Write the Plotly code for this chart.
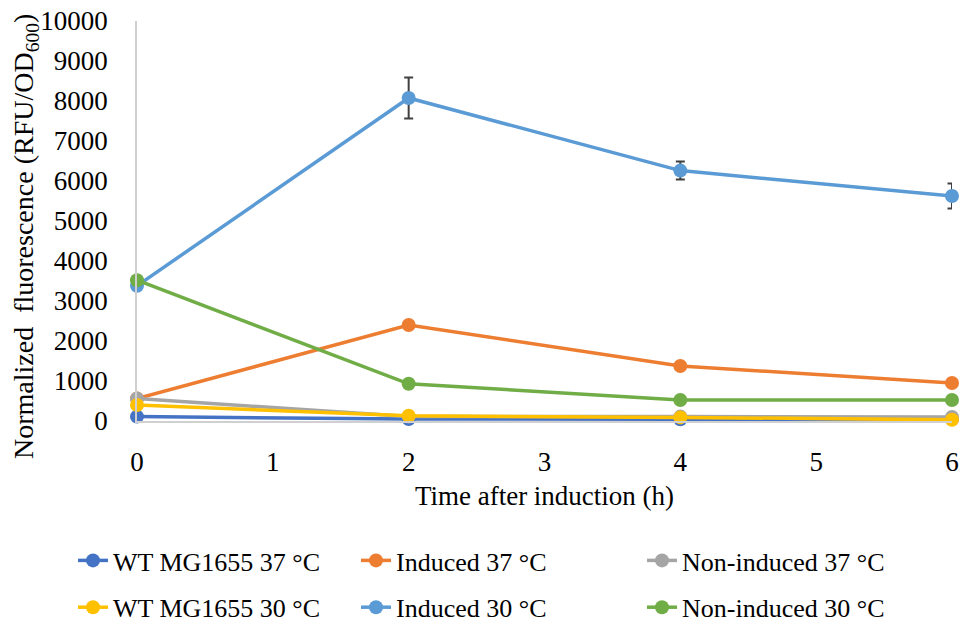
import plotly.graph_objects as go

time_h = [0, 2, 4, 6]
series_names = ["WT MG1655 37 °C", "Induced 37 °C", "Non-induced 37 °C",
                "WT MG1655 30 °C", "Induced 30 °C", "Non-induced 30 °C"]
wt37 = [110, 50, 45, 50]
ind37 = [560, 2400, 1375, 950]
nonind37 = [560, 110, 110, 100]
wt30 = [400, 130, 90, 30]
ind30 = [3380, 8075, 6260, 5625]
ind30_err = [0, 510, 225, 312]
nonind30 = [3520, 930, 525, 525]
y_ticks = list(range(0, 10001, 1000))
x_ticks = [0, 1, 2, 3, 4, 5, 6]

colors = ["#4472C4", "#ED7D31", "#A5A5A5", "#FFC000", "#5B9BD5", "#70AD47"]
values = [wt37, ind37, nonind37, wt30, ind30, nonind30]
legends = ["legend", "legend2", "legend3", "legend", "legend2", "legend3"]

fig = go.Figure()
for name, vals, col, lg in zip(series_names, values, colors, legends):
    kw = {}
    if name == "Induced 30 °C":
        kw["error_y"] = dict(type="data", array=ind30_err, visible=True,
                             color="#404040", thickness=2, width=4.5)
    fig.add_trace(go.Scatter(
        x=time_h, y=vals, name=name, mode="lines+markers",
        line=dict(color=col, width=3.5), marker=dict(color=col, size=14),
        legend=lg, legendgroup=name, cliponaxis=False, **kw))

FAM = "Liberation Serif, Times New Roman, serif"
font = dict(family=FAM, size=27, color="#000000")
leg_font = dict(family=FAM, size=26, color="#000000")

L, R, T, B = 137, 9, 21, 202
W, H = 961, 623
pw = W - L - R
ph = H - T - B

def px_to_paper_x(px):
    return (px - L) / pw

def px_to_paper_y(py):
    return (H - B - py) / ph

leg_common = dict(orientation="v", yanchor="top", y=px_to_paper_y(537), xanchor="left",
                  font=leg_font, tracegroupgap=10, bgcolor="rgba(0,0,0,0)", itemwidth=30)

fig.update_layout(
    width=W, height=H,
    margin=dict(l=L, r=R, t=T, b=B, autoexpand=False),
    paper_bgcolor="white", plot_bgcolor="white",
    font=font,
    showlegend=True,
    legend=dict(x=px_to_paper_x(73), **leg_common),
    legend2=dict(x=px_to_paper_x(356), **leg_common),
    legend3=dict(x=px_to_paper_x(642), **leg_common),
    xaxis=dict(range=[0, 6], tickvals=x_ticks, showgrid=False,
               showline=True, linecolor="#D0D0D0", linewidth=1.5, zeroline=False,
               ticks="", ticklabelstandoff=16, tickfont=font,
               title=dict(text="Time after induction (h)", font=font, standoff=10)),
    yaxis=dict(range=[0, 10000], tickvals=y_ticks, tickformat="d", showgrid=False,
               showline=True, linecolor="#D0D0D0", linewidth=1.5, zeroline=False,
               ticks="", ticklabelstandoff=22, tickfont=font),
    annotations=[dict(
        text="Normalized  fluorescence (RFU/OD<sub>600</sub>)",
        xref="paper", yref="paper", x=px_to_paper_x(25), y=px_to_paper_y(237),
        xanchor="center", yanchor="middle", textangle=-90, showarrow=False,
        font=dict(family=FAM, size=28, color="#000000"))],
)

fig.write_html("out.html")
